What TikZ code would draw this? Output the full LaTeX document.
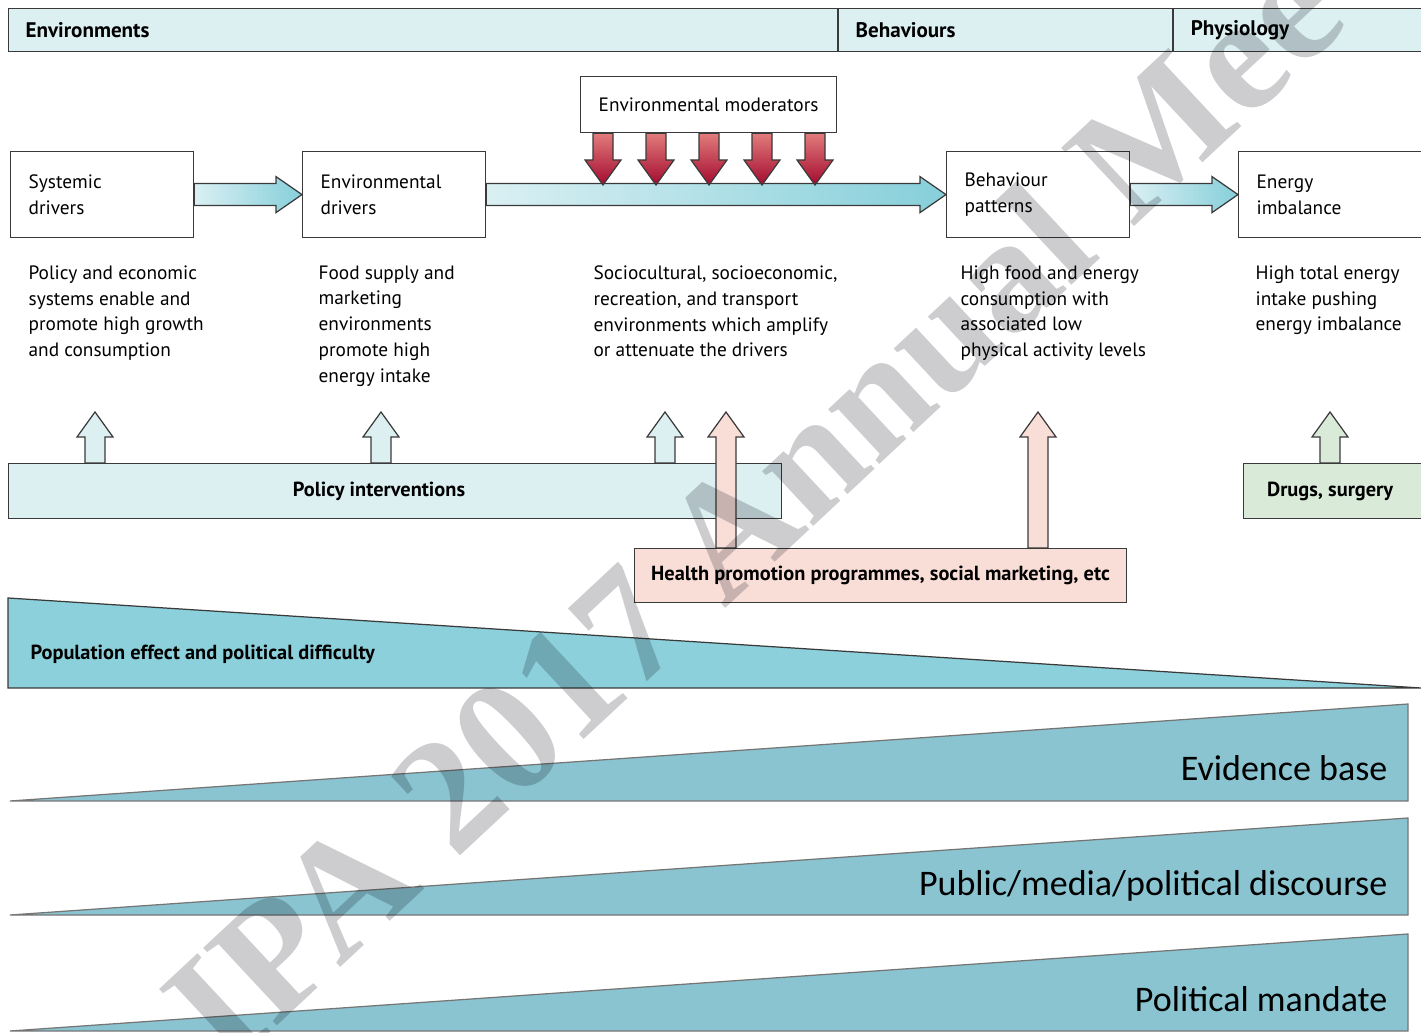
\documentclass[tikz,border=0pt]{standalone}
\usepackage{fontspec}
\setmainfont{PT Sans}
\newfontfamily\calfont{Carlito}
\newfontfamily\wmfont{Liberation Serif}
\usetikzlibrary{calc}

\definecolor{edge}{HTML}{3A3A3A}
\definecolor{hdrcyan}{HTML}{DCF0F2}
\definecolor{hpink}{HTML}{F9DED7}
\definecolor{drgreen}{HTML}{D9EAD9}
\definecolor{flowa}{HTML}{DAF0F3}
\definecolor{flowb}{HTML}{86CFDA}
\definecolor{moda}{HTML}{E27C7C}
\definecolor{modb}{HTML}{A30A2E}
\definecolor{popblue}{HTML}{8BD0DB}
\definecolor{wedgeblue}{HTML}{8AC4D1}
\definecolor{wmgray}{HTML}{CDCDD0}

\newcommand{\dsize}{\fontsize{11}{14.7}\selectfont}
\newcommand{\bsize}{\fontsize{11.6}{14.7}\selectfont\bfseries}
% block arrows: [style]{from}{to}
\newcommand{\rarr}[3][]{\draw[#1] ($(#2)+(0,-11)$) -- ($(#3)+(-26,-11)$) -- ($(#3)+(-26,-18)$) -- (#3)
  -- ($(#3)+(-26,18)$) -- ($(#3)+(-26,11)$) -- ($(#2)+(0,11)$) -- cycle;}
\newcommand{\varr}[4][]{\draw[#1] ($(#2)+(-10,0)$) -- ($(#3)+(-10,#4*25)$) -- ($(#3)+(-18,#4*25)$) -- (#3)
  -- ($(#3)+(18,#4*25)$) -- ($(#3)+(10,#4*25)$) -- ($(#2)+(10,0)$) -- cycle;}

\begin{document}
\begin{tikzpicture}[x=0.02cm,y=-0.02cm,line width=0.7pt,
  hdr/.style={draw=edge,fill=hdrcyan,anchor=north west,minimum height=0.86cm,inner ysep=0pt,
    inner xsep=0.34cm,align=left,font=\fontsize{12}{14.7}\selectfont\bfseries,text width=#1},
  drv/.style={draw=edge,fill=white,anchor=north west,minimum height=1.72cm,inner ysep=0pt,
    inner xsep=0.36cm,text width=2.94cm,align=left,font=\dsize},
  desc/.style={anchor=north west,align=left,inner sep=0pt,font=\dsize},
  ibox/.style={draw=edge,anchor=north west,inner sep=0pt,font=\bsize},
  flow/.style={draw=edge,left color=flowa,right color=flowb},
  modarr/.style={draw=edge,top color=moda,bottom color=modb},
  polarr/.style={draw=edge,fill=hdrcyan},
  hparr/.style={draw=edge,fill=hpink},
  drgarr/.style={draw=edge,fill=drgreen},
  wedge/.style={draw=edge,fill=#1},
  bigtxt/.style={anchor=base east,inner sep=0pt,font=\calfont\fontsize{20.5}{20.5}\selectfont}]

  \useasboundingbox (0,0) rectangle (1421,1033);
  \clip (0,0) rectangle (1421,1033);

  \node[hdr=15.90cm] (envh) at (8,8) {Environments};
  \node[hdr=6.00cm] (behh) at (envh.north east) {Behaviours};
  \node[hdr=4.34cm] (physh) at (behh.north east) {Physiology};

  \node[drv] (sysd) at (10,151) {Systemic\\drivers};
  \node[drv] (envd) at (302,151) {Environmental\\drivers};
  \node[drv] (behp) at (946,151) {Behaviour\\patterns};
  \node[drv] (enim) at (1238,151) {Energy\\imbalance};
  \node[ibox,fill=white,minimum width=5.12cm,minimum height=1.12cm,font=\dsize] (envm) at (580,76) {Environmental moderators};

  \rarr[flow]{sysd.east}{envd.west}
  \rarr[flow]{envd.east}{behp.west}
  \rarr[flow]{behp.east}{enim.west}
  \foreach \x [count=\i] in {603,656,709,762,815}{
    \coordinate (mod\i) at (\x,185);
    \varr[modarr]{mod\i |- envm.south}{mod\i}{-1}
  }

  \node[desc] (sysdesc) at (28,265) {Policy and economic\\systems enable and\\promote high growth\\and consumption};
  \node[desc] (envdesc) at (318,265) {Food supply and\\marketing\\environments\\promote high\\energy intake};
  \node[desc] (moddesc) at (593,265) {Sociocultural, socioeconomic,\\recreation, and transport\\environments which amplify\\or attenuate the drivers};
  \node[desc] (behdesc) at (960,265) {High food and energy\\consumption with\\associated low\\physical activity levels};
  \node[desc] (enidesc) at (1255,265) {High total energy\\intake pushing\\energy imbalance};

  \node[ibox,fill=hdrcyan,minimum width=15.46cm,minimum height=1.1cm] (pol) at (8,463) {Policy interventions\hspace*{0.64cm}};
  \node[ibox,fill=drgreen,minimum width=3.58cm,minimum height=1.1cm] (drg) at (1243,463) {Drugs, surgery\hspace*{0.12cm}};
  \node[ibox,fill=hpink,minimum width=9.84cm,minimum height=1.08cm] (hp) at (634,548) {Health promotion programmes, social marketing, etc};

  \coordinate (pa1) at (95,412);
  \coordinate (pa2) at (381,412);
  \coordinate (pa3) at (665,412);
  \coordinate (ha1) at (726,412);
  \coordinate (ha2) at (1038,412);
  \coordinate (da) at (1330,412);
  \varr[polarr]{pa1 |- pol.north}{pa1}{1}
  \varr[polarr]{pa2 |- pol.north}{pa2}{1}
  \varr[polarr]{pa3 |- pol.north}{pa3}{1}
  \varr[hparr]{ha1 |- hp.north}{ha1}{1}
  \varr[hparr]{ha2 |- hp.north}{ha2}{1}
  \varr[drgarr]{da |- drg.north}{da}{1}

  \draw[wedge=popblue] (8,598) -- (1421,688) -- (8,688) -- cycle;
  \node[anchor=base west,inner sep=0pt,font=\bsize] (popl) at (30,660) {Population effect and political difficulty};

  \draw[wedge=wedgeblue,draw=edge!70] (10,801) -- (1408,704) -- (1408,801) -- cycle;
  \draw[wedge=wedgeblue,draw=edge!70] (10,915) -- (1408,818) -- (1408,915) -- cycle;
  \draw[wedge=wedgeblue,draw=edge!70] (10,1031) -- (1408,934) -- (1408,1031) -- cycle;
  \node[bigtxt] (evid) at (1388,781) {Evidence base};
  \node[bigtxt] (disc) at (1388,895) {Public/media/political discourse};
  \node[bigtxt] (mand) at (1388,1011) {Political mandate};

  \begin{scope}[blend mode=multiply]
    \node[anchor=base west,inner sep=0pt,rotate=43,text=wmgray,font=\wmfont\bfseries\fontsize{93}{93}\selectfont] (wmark) at (228,1072) {IPA 2017 Annual Mee};
  \end{scope}
\end{tikzpicture}
\end{document}
